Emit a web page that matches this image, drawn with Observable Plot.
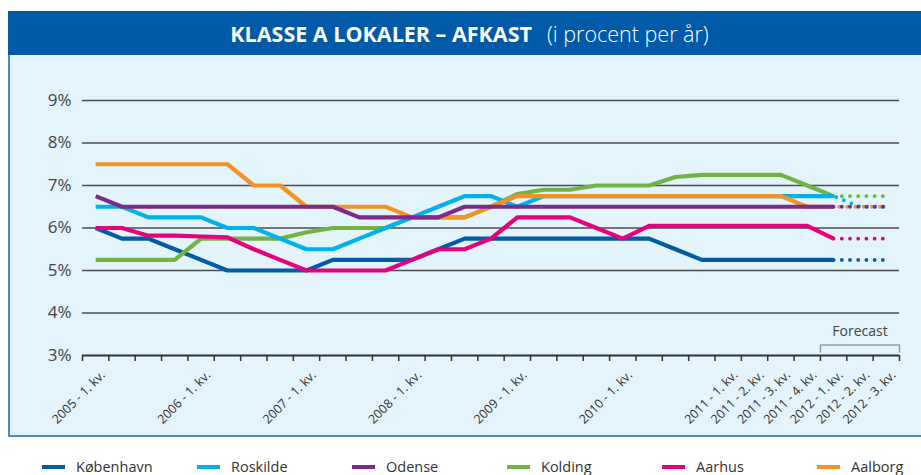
<!DOCTYPE html>
<html><head><meta charset="utf-8">
<script src="https://cdn.jsdelivr.net/npm/d3@7"></script>
<script src="https://cdn.jsdelivr.net/npm/@observablehq/plot@0.6"></script>
<style>
html,body{margin:0;padding:0;background:#fff;width:921px;height:475px;overflow:hidden;font-family:"Open Sans",sans-serif;}
#header{position:absolute;left:8px;top:11px;width:913px;height:44px;background:#005aa8;color:#fff;display:flex;align-items:center;justify-content:center;font-size:21.5px;white-space:nowrap;padding-left:10px;box-sizing:border-box;}
#header b{font-weight:700;}
#header span{font-weight:300;margin-left:15px;}
#panel{position:absolute;left:8px;top:55px;width:913px;height:382px;background:#e3f4fc;border-left:2px solid #4d88c6;border-bottom:2px solid #4d88c6;box-sizing:border-box;}
#chart{position:absolute;left:0;top:55px;}
#legend{position:absolute;top:457px;left:42px;display:flex;}
.item{width:155px;display:flex;align-items:center;font-size:14.5px;color:#333;}
.sw{width:23px;height:4px;margin-right:11px;}
</style></head>
<body>
<div id="header"><b>KLASSE A LOKALER – AFKAST</b><span>(i procent per år)</span></div>
<div id="panel"></div>
<div id="chart"></div>
<div id="legend"></div>
<script>
const quarters = [
  "2005 - 1. kv.","2005 - 2. kv.","2005 - 3. kv.","2005 - 4. kv.",
  "2006 - 1. kv.","2006 - 2. kv.","2006 - 3. kv.","2006 - 4. kv.",
  "2007 - 1. kv.","2007 - 2. kv.","2007 - 3. kv.","2007 - 4. kv.",
  "2008 - 1. kv.","2008 - 2. kv.","2008 - 3. kv.","2008 - 4. kv.",
  "2009 - 1. kv.","2009 - 2. kv.","2009 - 3. kv.","2009 - 4. kv.",
  "2010 - 1. kv.","2010 - 2. kv.","2010 - 3. kv.","2010 - 4. kv.",
  "2011 - 1. kv.","2011 - 2. kv.","2011 - 3. kv.","2011 - 4. kv.",
  "2012 - 1. kv.","2012 - 2. kv.","2012 - 3. kv."
];
const shownLabels = [
  "2005 - 1. kv.","2006 - 1. kv.","2007 - 1. kv.","2008 - 1. kv.","2009 - 1. kv.","2010 - 1. kv.",
  "2011 - 1. kv.","2011 - 2. kv.","2011 - 3. kv.","2011 - 4. kv.","2012 - 1. kv.","2012 - 2. kv.","2012 - 3. kv."
];
const forecastFrom = "2012 - 1. kv.";
const yTicks = [3,4,5,6,7,8,9];

const koebenhavn = [6.0,5.75,5.75,5.5,5.25,5.0,5.0,5.0,5.0,5.25,5.25,5.25,5.25,5.5,5.75,5.75,5.75,5.75,5.75,5.75,5.75,5.75,5.5,5.25,5.25,5.25,5.25,5.25,5.25,5.25,5.25];
const roskilde   = [6.5,6.5,6.25,6.25,6.25,6.0,6.0,5.75,5.5,5.5,5.75,6.0,6.25,6.5,6.75,6.75,6.5,6.75,6.75,6.75,6.75,6.75,6.75,6.75,6.75,6.75,6.75,6.75,6.75,6.5,6.5];
const odense     = [6.75,6.5,6.5,6.5,6.5,6.5,6.5,6.5,6.5,6.5,6.25,6.25,6.25,6.25,6.5,6.5,6.5,6.5,6.5,6.5,6.5,6.5,6.5,6.5,6.5,6.5,6.5,6.5,6.5,6.5,6.5];
const kolding    = [5.25,5.25,5.25,5.25,5.75,5.75,5.75,5.75,5.9,6.0,6.0,6.0,6.25,6.25,6.25,6.5,6.8,6.9,6.9,7.0,7.0,7.0,7.2,7.25,7.25,7.25,7.25,7.0,6.75,6.75,6.75];
const aarhus     = [6.0,6.0,5.82,5.82,5.8,5.78,5.5,5.25,5.0,5.0,5.0,5.0,5.25,5.5,5.5,5.75,6.25,6.25,6.25,6.0,5.75,6.05,6.05,6.05,6.05,6.05,6.05,6.05,5.75,5.75,5.75];
const aalborg    = [7.5,7.5,7.5,7.5,7.5,7.5,7.0,7.0,6.5,6.5,6.5,6.5,6.25,6.25,6.25,6.5,6.75,6.75,6.75,6.75,6.75,6.75,6.75,6.75,6.75,6.75,6.75,6.5,6.5,6.5,6.5];

const cities = ["København","Roskilde","Odense","Kolding","Aarhus","Aalborg"];
const cityValues = [koebenhavn, roskilde, odense, kolding, aarhus, aalborg];
const cityColors = ["#005ca9","#00b2ec","#7d2a8d","#72b344","#e6007e","#f39325"];
const drawOrder = ["København","Kolding","Roskilde","Aalborg","Odense","Aarhus"];
const dashOffset = {"Odense":0,"Aalborg":2.7,"Roskilde":5.4};

const n = quarters.length;
const fIdx = quarters.indexOf(forecastFrom);
const marks = [];
marks.push(Plot.ruleY(yTicks.filter(v => v > yTicks[0]), {stroke:"#4d4d4d", strokeWidth:1.4}));
marks.push(Plot.ruleY([yTicks[0]], {stroke:"#333", strokeWidth:2}));
const boundaries = d3.range(n + 1).map(i => i - 0.5);
marks.push(Plot.axisX(boundaries, {tickSize:6, tickFormat:() => "", stroke:"#333", strokeWidth:1.5}));
marks.push(Plot.text(yTicks, {y:d => d, frameAnchor:"left", text:d => d + "%", textAnchor:"end", dx:-11, fontSize:17, fill:"#444"}));
marks.push(Plot.text(shownLabels, {x:d => quarters.indexOf(d), frameAnchor:"bottom", text:d => d, rotate:-45, textAnchor:"end", lineAnchor:"top", dx:4, dy:14, fontSize:12.5, fill:"#333"}));
for (const c of drawOrder) {
  const k = cities.indexOf(c);
  const vals = cityValues[k];
  const solid = vals.slice(0, fIdx + 1).map((v, i) => ({i, v}));
  const fc = vals.slice(fIdx).map((v, j) => ({i: fIdx + j, v}));
  marks.push(Plot.line(solid, {x:"i", y:"v", stroke:cityColors[k], strokeWidth:4.2, strokeLinejoin:"miter", strokeLinecap:"butt"}));
  marks.push(Plot.line(fc, {x:"i", y:"v", stroke:cityColors[k], strokeWidth:3.8, strokeLinecap:"round", strokeDasharray:"0 8.2", strokeDashoffset: dashOffset[c] || 0}));
}
const bTop = yTicks[0] + 0.25, bBot = yTicks[0] + 0.08;
marks.push(Plot.line([{x:fIdx-0.5,y:bBot},{x:fIdx-0.5,y:bTop},{x:n-0.5,y:bTop},{x:n-0.5,y:bBot}], {x:"x", y:"y", stroke:"#9a9a9a", strokeWidth:1.5, strokeLinejoin:"miter"}));
marks.push(Plot.text(["Forecast"], {x:(fIdx + n - 1) / 2, y:yTicks[0] + 0.57, text:d => d, fontSize:14, fill:"#444"}));

const chart = Plot.plot({
  width:921, height:380,
  marginLeft:82, marginRight:22, marginTop:45, marginBottom:80,
  style:{background:"transparent", fontFamily:"'Open Sans', sans-serif", overflow:"visible"},
  x:{type:"linear", domain:[-0.5, n - 0.5], axis:null},
  y:{domain:[yTicks[0], yTicks[yTicks.length-1]], axis:null},
  marks
});
document.getElementById("chart").appendChild(chart);

const leg = document.getElementById("legend");
cities.forEach((c, k) => {
  const it = document.createElement("div"); it.className = "item";
  const sw = document.createElement("div"); sw.className = "sw"; sw.style.background = cityColors[k];
  const t = document.createElement("span"); t.textContent = c;
  it.appendChild(sw); it.appendChild(t); leg.appendChild(it);
});
</script>
</body></html>
